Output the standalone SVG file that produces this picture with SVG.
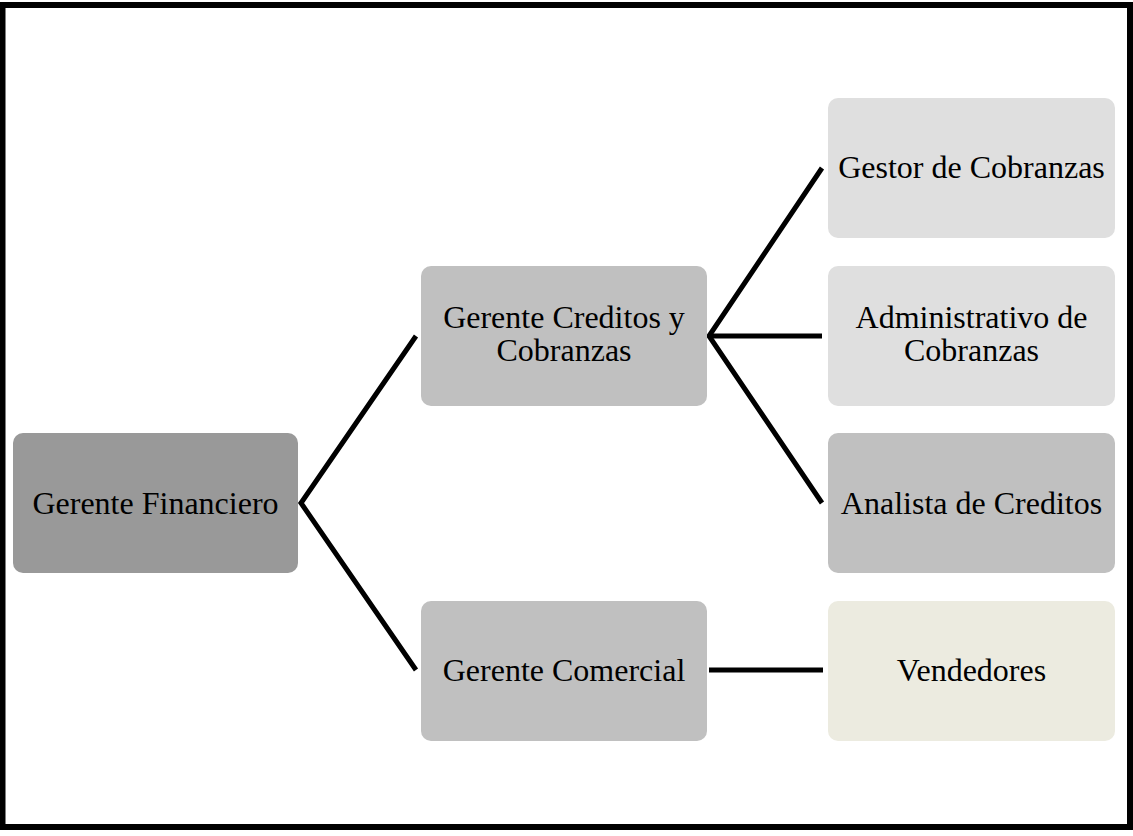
<svg xmlns="http://www.w3.org/2000/svg" width="1133" height="836" viewBox="0 0 1133 836">
  <style>
    .box { stroke: none; }
    .lvl0 { fill: #999999; }
    .lvl1 { fill: #c0c0c0; }
    .lvl2 { fill: #dfdfdf; }
    .sales { fill: #ecebe0; }
    .lbl { font-family: "Liberation Serif", "Times New Roman", serif; font-size: 32px; fill: #000; text-anchor: middle; }
    .link { stroke: #000; stroke-width: 5; fill: none; stroke-linecap: butt; stroke-linejoin: miter; }
  </style>
  <rect x="0" y="0" width="1133" height="836" fill="#fff"/>
  <rect x="2.5" y="5" width="1127.5" height="822" fill="none" stroke="#000" stroke-width="6"/>

  <g id="connectors">
    <polyline class="link" points="416,336 301,503 416,670"/>
    <polyline class="link" points="822,168 709,336 822,503"/>
    <line class="link" x1="709" y1="336" x2="822" y2="336"/>
    <line class="link" x1="709" y1="670" x2="823" y2="670"/>
  </g>

  <g id="gerente-financiero">
    <rect class="box lvl0" x="13" y="433" width="285" height="140" rx="10"/>
    <text class="lbl" x="155.5" y="514">Gerente Financiero</text>
  </g>

  <g id="gerente-creditos">
    <rect class="box lvl1" x="421" y="266" width="286" height="140" rx="10"/>
    <text class="lbl" x="564" y="328">Gerente Creditos y</text>
    <text class="lbl" x="564" y="361">Cobranzas</text>
  </g>

  <g id="gerente-comercial">
    <rect class="box lvl1" x="421" y="601" width="286" height="140" rx="10"/>
    <text class="lbl" x="564" y="681">Gerente Comercial</text>
  </g>

  <g id="gestor-cobranzas">
    <rect class="box lvl2" x="828" y="98" width="287" height="140" rx="10"/>
    <text class="lbl" x="971.5" y="178">Gestor de Cobranzas</text>
  </g>

  <g id="administrativo-cobranzas">
    <rect class="box lvl2" x="828" y="266" width="287" height="140" rx="10"/>
    <text class="lbl" x="971.5" y="328">Administrativo de</text>
    <text class="lbl" x="971.5" y="361">Cobranzas</text>
  </g>

  <g id="analista-creditos">
    <rect class="box lvl1" x="828" y="433" width="287" height="140" rx="10"/>
    <text class="lbl" x="971.5" y="514">Analista de Creditos</text>
  </g>

  <g id="vendedores">
    <rect class="box sales" x="828" y="601" width="287" height="140" rx="10"/>
    <text class="lbl" x="971.5" y="681">Vendedores</text>
  </g>
</svg>
